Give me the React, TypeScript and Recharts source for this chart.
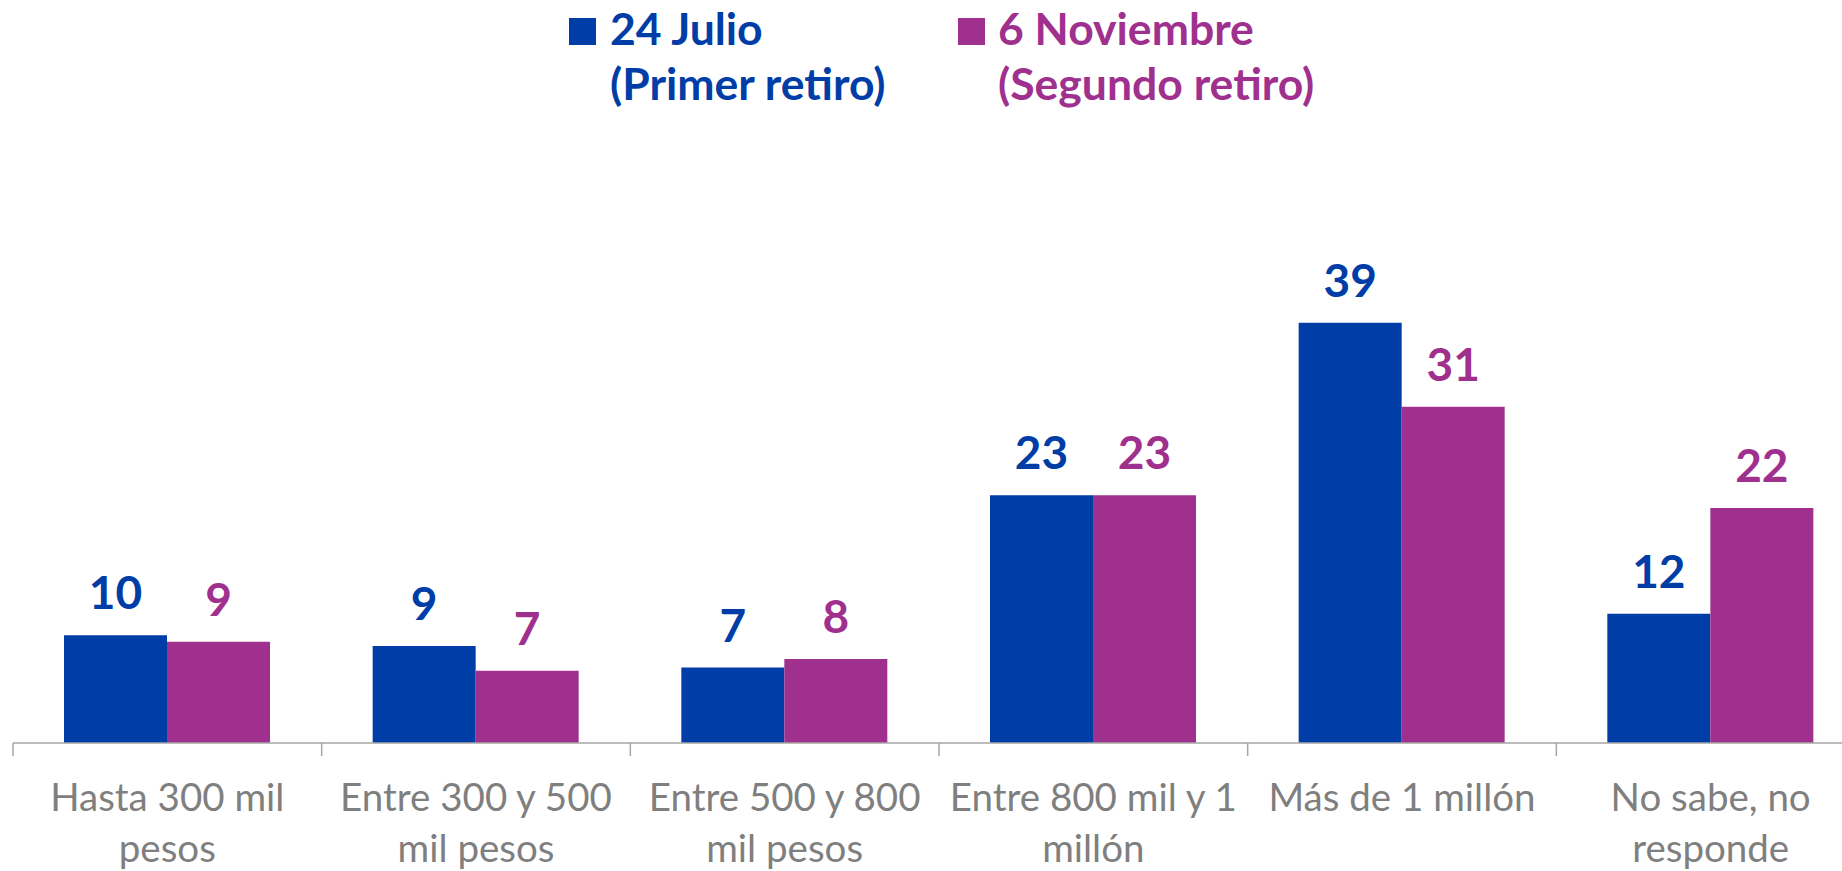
import React from "react";
import { BarChart, Bar, XAxis, YAxis, LabelList } from "recharts";

const categories = [
  "Hasta 300 mil pesos",
  "Entre 300 y 500 mil pesos",
  "Entre 500 y 800 mil pesos",
  "Entre 800 mil y 1 millón",
  "Más de 1 millón",
  "No sabe, no responde",
];
const categoryLines = [
  ["Hasta 300 mil", "pesos"],
  ["Entre 300 y 500", "mil pesos"],
  ["Entre 500 y 800", "mil pesos"],
  ["Entre 800 mil y 1", "millón"],
  ["Más de 1 millón"],
  ["No sabe, no", "responde"],
];
const julioValues = [10, 9, 7, 23, 39, 12];
const noviembreValues = [9.4, 6.7, 7.8, 23, 31.2, 21.8];
const seriesNames = [
  ["24 Julio", "(Primer retiro)"],
  ["6 Noviembre", "(Segundo retiro)"],
];

const BLUE = "#003DA6";
const PURPLE = "#A0308E";
const GRAY = "#7F7F7F";
const AXIS = "#A6A6A6";
const FONT = "Lato, 'DejaVu Sans', sans-serif";

const data = categories.map((c, i) => ({
  name: c,
  lines: categoryLines[i],
  julio: julioValues[i],
  nov: noviembreValues[i],
}));

const CategoryTick = (props: any) => {
  const { x, y, payload, index } = props;
  const off = payload && typeof payload.offset === "number" ? payload.offset : 0;
  const lines = categoryLines[index] || [String(payload.value)];
  return (
    <g>
      {off > 0 && (
        <line x1={x - off} x2={x - off} y1={y} y2={y + 13} stroke={AXIS} strokeWidth={1.5} />
      )}
      {off > 0 && index === categories.length - 1 && (
        <line x1={x + off} x2={x + off} y1={y} y2={y + 13} stroke={AXIS} strokeWidth={1.5} />
      )}
      {lines.map((l: string, k: number) => (
        <text
          key={k}
          x={x}
          y={y + 68 + k * 51}
          textAnchor="middle"
          fill={GRAY}
          fontSize={38.5}
          fontFamily={FONT}
        >
          {l}
        </text>
      ))}
    </g>
  );
};

const Legend2 = () => {
  const items = [
    { color: BLUE, sq: 569, tx: 610, lines: seriesNames[0] },
    { color: PURPLE, sq: 958, tx: 998, lines: seriesNames[1] },
  ];
  return (
    <svg width={1842} height={130} style={{ position: "absolute", left: 0, top: 0 }}>
      {items.map((it, i) => (
        <g key={i}>
          <rect x={it.sq} y={18} width={27} height={27} fill={it.color} />
          {it.lines.map((l, k) => (
            <text
              key={k}
              x={it.tx}
              y={45 + k * 55}
              fill={it.color}
              fontSize={44.5}
              fontWeight="bold"
              fontFamily={FONT}
            >
              {l}
            </text>
          ))}
        </g>
      ))}
    </svg>
  );
};

export default function App() {
  return (
    <div
      style={{
        position: "absolute",
        left: 0,
        top: 0,
        width: 1842,
        height: 871,
        overflow: "hidden",
        background: "#fff",
      }}
    >
      <BarChart
        width={1865}
        height={871}
        data={data}
        margin={{ top: 312, right: 0, left: 13, bottom: 0 }}
        barGap={0}
        barSize={103}
      >
        <YAxis hide domain={[0, 40]} />
        <XAxis
          dataKey="name"
          height={128}
          interval={0}
          tickSize={0}
          tickMargin={0}
          tickLine={false}
          axisLine={{ stroke: AXIS, strokeWidth: 1.5 }}
          tick={<CategoryTick />}
        />
        <Bar dataKey="julio" fill={BLUE} isAnimationActive={false}>
          <LabelList
            dataKey="julio"
            position="top"
            offset={26}
            formatter={(v: any) => Math.round(Number(v))}
            fill={BLUE}
            fontSize={46}
            fontWeight="bold"
            fontFamily={FONT}
          />
        </Bar>
        <Bar dataKey="nov" fill={PURPLE} isAnimationActive={false}>
          <LabelList
            dataKey="nov"
            position="top"
            offset={26}
            formatter={(v: any) => Math.round(Number(v))}
            fill={PURPLE}
            fontSize={46}
            fontWeight="bold"
            fontFamily={FONT}
          />
        </Bar>
      </BarChart>
      <Legend2 />
    </div>
  );
}
